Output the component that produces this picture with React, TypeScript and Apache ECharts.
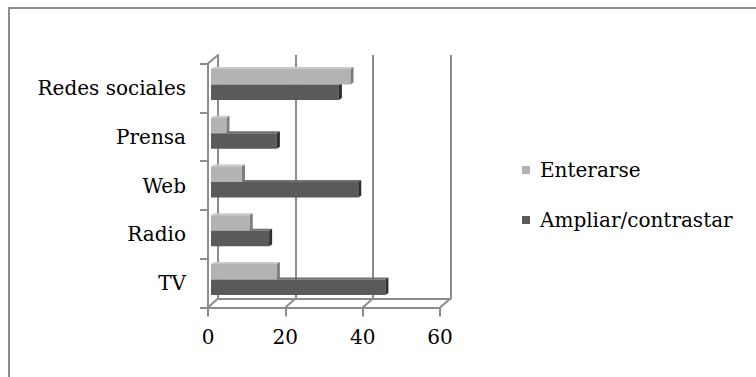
import React, { useEffect, useRef } from "react";
import * as echarts from "echarts";

const categories = ["Redes sociales", "Prensa", "Web", "Radio", "TV"];
const seriesNames = ["Enterarse", "Ampliar/contrastar"];
const enterarse = [36, 4, 8, 10, 17];
const ampliar = [33, 17, 38, 15, 45];
const xTicks = [0, 20, 40, 60];

const BACK = { left: 218, top: 55, width: 232.5, height: 243.5 };
const FRONT = { left: 208, top: 63.5, width: 232, height: 244 };
const MID = { left: 211, top: 59, width: 232.5, height: 244 };

const LINE = "#8c8c8c";
const FONT = "DejaVu Serif";
const COLORS = [
  { front: "#b3b3b3", top: "#c9c9c9", side: "#7d7d7d" },
  { front: "#5a5a5a", top: "#707070", side: "#2e2e2e" },
];

function make3DBar(seriesIdx: number) {
  return (params: any, api: any) => {
    const v = api.value(0);
    const c = api.value(1);
    const [x1, yc] = api.coord([v, c]);
    const [x0] = api.coord([0, c]);
    const band = api.size([0, 1])[1];
    const h = band * 0.318;
    const y0 = seriesIdx === 0 ? yc - h + 1 : yc + 1;
    const y1 = y0 + h;
    const dx = 3;
    const dy = 2;
    const col = COLORS[seriesIdx];
    return {
      type: "group",
      children: [
        {
          type: "polygon",
          shape: { points: [[x0, y0], [x0 + dx, y0 - dy], [x1 + dx, y0 - dy], [x1, y0]] },
          style: { fill: col.top },
        },
        {
          type: "rect",
          shape: { x: x0, y: y0, width: x1 - x0, height: h },
          style: { fill: col.front },
        },
        {
          type: "polygon",
          shape: { points: [[x1, y0], [x1 + dx, y0 - dy], [x1 + dx, y1 - dy], [x1, y1]] },
          style: { fill: col.side },
        },
      ],
    };
  };
}

export default function App() {
  const ref = useRef<HTMLDivElement>(null);
  useEffect(() => {
    document.body.style.margin = "0";
    const chart = echarts.init(ref.current!, null, { renderer: "svg" });
    const valueAxisBase = {
      type: "value" as const,
      min: xTicks[0],
      max: xTicks[xTicks.length - 1],
      interval: xTicks[1] - xTicks[0],
    };
    chart.setOption({
      animation: false,
      backgroundColor: "#ffffff",
      grid: [
        { ...BACK, containLabel: false },
        { ...FRONT, containLabel: false },
        { ...MID, containLabel: false },
      ],
      xAxis: [
        {
          ...valueAxisBase,
          gridIndex: 0,
          axisLine: { show: true, lineStyle: { color: LINE, width: 2 } },
          axisTick: { show: false },
          axisLabel: { show: false },
          splitLine: { show: true, lineStyle: { color: LINE, width: 2 } },
        },
        {
          ...valueAxisBase,
          gridIndex: 1,
          axisLine: { show: true, onZero: false, lineStyle: { color: LINE, width: 2 } },
          axisTick: { show: true, length: 9, lineStyle: { color: LINE, width: 2 } },
          axisLabel: { show: true, margin: 19, fontFamily: FONT, fontSize: 20, color: "#000" },
          splitLine: { show: false },
        },
        {
          ...valueAxisBase,
          gridIndex: 2,
          show: false,
        },
      ],
      yAxis: [
        {
          type: "category",
          gridIndex: 0,
          data: categories,
          inverse: true,
          axisLine: { show: true, lineStyle: { color: LINE, width: 2 } },
          axisTick: { show: false },
          axisLabel: { show: false },
          splitLine: { show: false },
        },
        {
          type: "category",
          gridIndex: 1,
          data: categories,
          inverse: true,
          axisLine: { show: true, onZero: false, lineStyle: { color: LINE, width: 2 } },
          axisTick: { show: true, length: 8, lineStyle: { color: LINE, width: 2 } },
          axisLabel: { show: true, margin: 22, fontFamily: FONT, fontSize: 20, color: "#000" },
          splitLine: { show: false },
        },
        {
          type: "category",
          gridIndex: 2,
          data: categories,
          inverse: true,
          show: false,
        },
      ],
      legend: {
        orient: "vertical",
        left: 517,
        top: 155,
        itemWidth: 18,
        itemHeight: 8,
        itemGap: 30,
        data: seriesNames.map((n) => ({ name: n, icon: "path://M0,0L8,0L8,8L0,8Z" })),
        textStyle: { fontFamily: FONT, fontSize: 20, color: "#000" },
      },
      series: [
        {
          name: seriesNames[0],
          type: "custom",
          xAxisIndex: 2,
          yAxisIndex: 2,
          z: 3,
          itemStyle: { color: COLORS[0].front },
          encode: { x: 0, y: 1 },
          renderItem: make3DBar(0),
          data: enterarse.map((v, i) => [v, i]),
        },
        {
          name: seriesNames[1],
          type: "custom",
          xAxisIndex: 2,
          yAxisIndex: 2,
          z: 2,
          itemStyle: { color: COLORS[1].front },
          encode: { x: 0, y: 1 },
          renderItem: make3DBar(1),
          data: ampliar.map((v, i) => [v, i]),
        },
      ],
    });

    const backX = (v: number) => chart.convertToPixel({ xAxisIndex: 0 }, v) as number;
    const frontX = (v: number) => chart.convertToPixel({ xAxisIndex: 1 }, v) as number;
    const backBottom = BACK.top + BACK.height;
    const frontBottom = FRONT.top + FRONT.height;
    const diag = xTicks.map((v) => ({
      type: "line",
      shape: { x1: backX(v), y1: backBottom, x2: frontX(v), y2: frontBottom },
      style: { stroke: LINE, lineWidth: 2 },
      z: 1,
    }));
    diag.push({
      type: "line",
      shape: { x1: frontX(xTicks[0]), y1: FRONT.top, x2: backX(xTicks[0]), y2: BACK.top },
      style: { stroke: LINE, lineWidth: 2 },
      z: 1,
    });
    chart.setOption({
      graphic: [
        {
          type: "rect",
          shape: { x: 9, y: 8, width: 800, height: 420 },
          style: { fill: "none", stroke: LINE, lineWidth: 2 },
          silent: true,
        },
        ...diag,
      ],
    });

    return () => chart.dispose();
  }, []);
  return <div ref={ref} style={{ width: 756, height: 377 }} />;
}
